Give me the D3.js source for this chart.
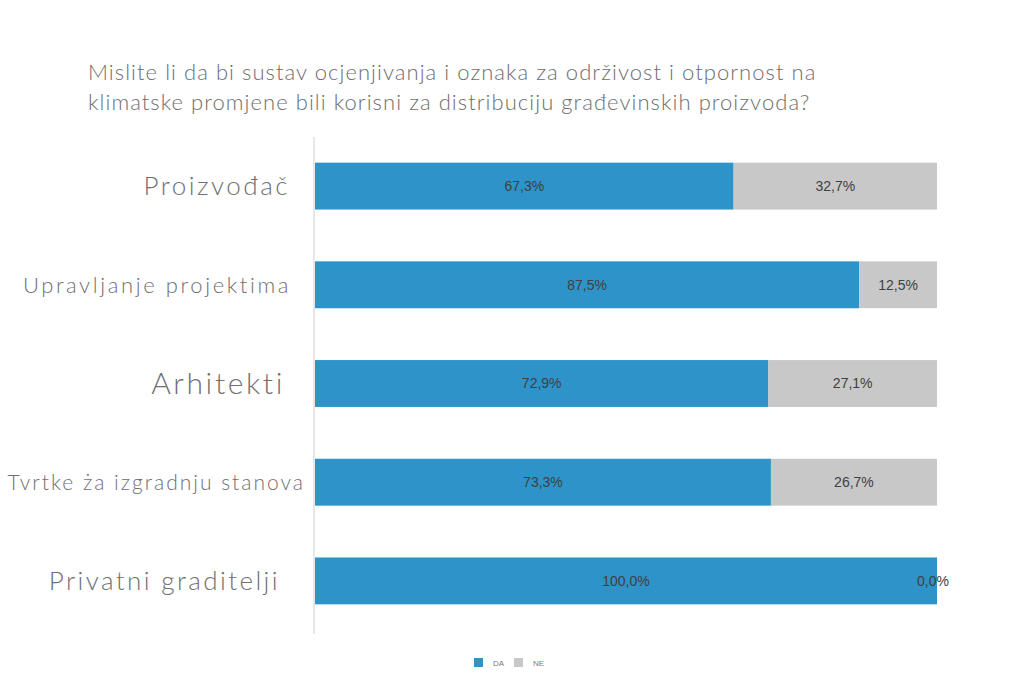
<!DOCTYPE html>
<html>
<head>
<meta charset="utf-8">
<script src="https://cdn.jsdelivr.net/npm/d3@7/dist/d3.min.js"></script>
<style>
  body { margin: 0; background: #fff; }
  svg { display: block; }
</style>
</head>
<body>
<div id="chart"></div>
<script>
// Chart data
const categories = ['Proizvođač', 'Upravljanje projektima', 'Arhitekti', 'Tvrtke ża izgradnju stanova', 'Privatni graditelji'];
const daValues = [67.3, 87.5, 72.9, 73.3, 100.0];
const neValues = [32.7, 12.5, 27.1, 26.7, 0.0];
const seriesNames = ['DA', 'NE'];
const titleLines = ['Mislite li da bi sustav ocjenjivanja i oznaka za održivost i otpornost na',
                    'klimatske promjene bili korisni za distribuciju građevinskih proizvoda?'];

// Label font sizes, spacing and right edges differ per row in the original
const labelSizes = [26, 22, 30, 21, 26];
const labelSpacing = [2.5, 2.6, 2.6, 2.0, 2.4];
const labelRight = [290, 291, 285, 305, 280];
const colors = ['#2e93c8', '#c8c8c8'];

const width = 1024, height = 683;
const margin = { top: 137, left: 315, right: 87, bottom: 53 };

const svg = d3.select('#chart').append('svg')
    .attr('width', width)
    .attr('height', height);

// Title
svg.append('g').selectAll('text')
    .data(titleLines)
    .enter()
    .append('text')
    .attr('x', 88)
    .attr('y', (d, i) => 80 + i * 30)
    .attr('font-family', 'Lato, sans-serif')
    .attr('font-weight', 300)
    .attr('font-size', 22)
    .attr('letter-spacing', 1.05)
    .attr('fill', '#6e6e6e')
    .text(d => d);

const x = d3.scaleLinear()
    .domain([0, 100])
    .range([margin.left, width - margin.right]);

const y = d3.scaleBand()
    .domain(categories)
    .range([margin.top, height - margin.bottom])
    .paddingInner(0.525)
    .paddingOuter(0.26);

// Stack the two series
const rows = categories.map((c, i) => ({ cat: c, DA: daValues[i], NE: neValues[i] }));
const stacked = d3.stack().keys(seriesNames)(rows);

const layers = svg.append('g').selectAll('g')
    .data(stacked)
    .enter()
    .append('g')
    .attr('fill', (d, i) => colors[i]);

layers.selectAll('rect')
    .data(d => d)
    .enter()
    .append('rect')
    .attr('x', d => x(d[0]))
    .attr('y', d => y(d.data.cat))
    .attr('width', d => x(d[1]) - x(d[0]))
    .attr('height', y.bandwidth());

// Value labels
layers.selectAll('text')
    .data(d => d.map(v => ({ v, key: d.key })))
    .enter()
    .append('text')
    .attr('x', d => d.v[1] - d.v[0] === 0 ? x(d.v[1]) - 4 : (x(d.v[0]) + x(d.v[1])) / 2)
    .attr('y', d => y(d.v.data.cat) + y.bandwidth() / 2)
    .attr('dy', '0.35em')
    .attr('text-anchor', 'middle')
    .attr('font-family', '"Liberation Sans", sans-serif')
    .attr('font-size', 14)
    .attr('fill', '#404040')
    .text(d => (d.v.data[d.key]).toFixed(1).replace('.', ',') + '%');

// Vertical axis line
svg.append('line')
    .attr('x1', margin.left - 1)
    .attr('x2', margin.left - 1)
    .attr('y1', margin.top)
    .attr('y2', height - margin.bottom + 4)
    .attr('stroke', '#d0d0d0')
    .attr('stroke-width', 1);

// Category labels
svg.append('g').selectAll('text')
    .data(categories)
    .enter()
    .append('text')
    .attr('x', (d, i) => labelRight[i])
    .attr('y', d => y(d) + y.bandwidth() / 2)
    .attr('dy', '0.35em')
    .attr('text-anchor', 'end')
    .attr('font-family', 'Lato, sans-serif')
    .attr('font-weight', 300)
    .attr('font-size', (d, i) => labelSizes[i])
    .attr('letter-spacing', (d, i) => labelSpacing[i])
    .attr('fill', '#707070')
    .text(d => d);

// Legend
const legend = svg.append('g').attr('transform', 'translate(474,658)');
const items = legend.selectAll('g')
    .data(seriesNames)
    .enter()
    .append('g')
    .attr('transform', (d, i) => `translate(${i * 40},0)`);
items.append('rect')
    .attr('width', 9)
    .attr('height', 9)
    .attr('fill', (d, i) => colors[i]);
items.append('text')
    .attr('x', 19)
    .attr('y', 8)
    .attr('font-family', '"Liberation Sans", sans-serif')
    .attr('font-size', 8)
    .attr('fill', '#7a7a7a')
    .text(d => d);
</script>
</body>
</html>
